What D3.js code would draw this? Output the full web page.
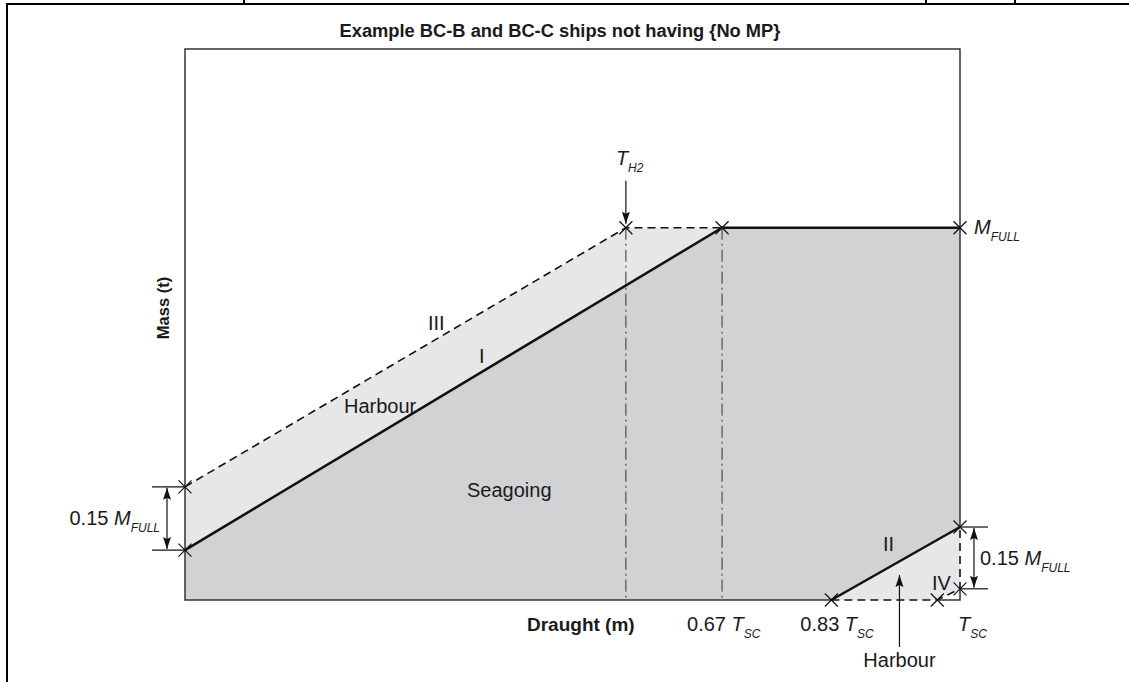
<!DOCTYPE html>
<html>
<head>
<meta charset="utf-8">
<script src="https://cdn.jsdelivr.net/npm/d3@7"></script>
<style>
	body { margin: 0; background: #fff; }
	text { font-family: "Liberation Sans", Arial, sans-serif; fill: #1a1a1a; }
	.bold { font-weight: bold; }
	.frame { stroke: #000; stroke-width: 2; fill: none; }
	.outline { stroke: #333; stroke-width: 1.5; fill: none; }
	.solid { stroke: #111; stroke-width: 2.5; fill: none; }
	.dashed { stroke: #111; stroke-width: 1.6; fill: none; stroke-dasharray: 8,5; }
	.dashdot { stroke: #333; stroke-width: 1; fill: none; stroke-dasharray: 12,4,2,4; }
	.cross { stroke: #111; stroke-width: 1.2; }
	.dim { stroke: #111; stroke-width: 1.2; fill: none; }
</style>
</head>
<body>
<svg></svg>
<script>
// draught as fraction of T_SC, mass as fraction of M_FULL
var lineI = [[0, 0.134], [0.67, 1], [1, 1]];          // seagoing limit
var lineII = [[0.83, 0], [1, 0.196]];                 // seagoing limit, deep end
var lineIII = [[0, 0.304], [0.55, 1], [0.67, 1]];     // harbour limit
var lineIV = [[0.83, 0], [0.97, 0], [1, 0.03], [1, 0.196]]; // harbour limit, deep end
var tH2 = 0.55;
var harbourArrowX = 0.92;
var draughtBreaks = [0, 0.67, 0.83, 1];

var width = 1129, height = 682;
var plot = {left: 185, top: 49, width: 775, height: 551};

var svg = d3.select("svg").attr("width", width).attr("height", height);

// schematic axis: piecewise linear
var x = d3.scaleLinear()
	.domain(draughtBreaks)
	.range([0, 0.693, 0.834, 1].map(f => plot.left + f * plot.width));
var y = d3.scaleLinear()
	.domain([0, 1.48])
	.range([plot.top + plot.height, plot.top]);

var line = d3.line().x(d => x(d[0])).y(d => y(d[1]));
var poly = pts => line(pts) + "Z";

svg.append("defs").append("marker")
	.attr("id", "arrow")
	.attr("viewBox", "0 0 12 10")
	.attr("refX", 12).attr("refY", 5)
	.attr("markerWidth", 12).attr("markerHeight", 10)
	.attr("markerUnits", "userSpaceOnUse")
	.attr("orient", "auto-start-reverse")
	.append("path").attr("d", "M0,1L12,5L0,9L2,5Z").attr("fill", "#111");

// page frame
svg.append("path").attr("class", "frame")
	.attr("d", "M7,682V4H1129M244,0V4M926,0V4M1015,0V4");

// title
svg.append("text").attr("class", "bold")
	.attr("x", 560).attr("y", 37)
	.attr("text-anchor", "middle").attr("font-size", 18.3)
	.text("Example BC-B and BC-C ships not having {No MP}");

// fills
svg.append("path").attr("fill", "#d1d2d4")
	.attr("d", poly([[0, 0]].concat(lineI, lineII.slice().reverse())));
svg.append("path").attr("fill", "#e6e7e8")
	.attr("d", poly(lineIII.concat(lineI.slice(0, 2).reverse())));
svg.append("path").attr("fill", "#e6e7e8")
	.attr("d", poly(lineII.concat(lineIV.slice().reverse())));

// outline of diagram (gaps where limit IV runs along it)
var yTop = plot.top;
svg.append("path").attr("class", "outline")
	.attr("d", "M" + x(0.83) + "," + y(0) + "H" + x(0) + "V" + yTop + "H" + x(1) + "V" + y(0.196) +
		"M" + x(0.97) + "," + y(0) + "H" + x(1) + "V" + y(0.03));

// dash-dot verticals
[tH2, 0.67].forEach(v => {
	svg.append("line").attr("class", "dashdot")
		.attr("x1", x(v)).attr("x2", x(v))
		.attr("y1", y(1)).attr("y2", y(0));
});

// limit lines
svg.append("path").attr("class", "solid").attr("d", line(lineI));
svg.append("path").attr("class", "solid").attr("d", line(lineII));
svg.append("path").attr("class", "dashed").attr("d", line(lineIII));
svg.append("path").attr("class", "dashed").attr("d", line(lineIV));

// crosses on every vertex
var pts = [];
[lineI, lineII, lineIII, lineIV].forEach(l => l.forEach(p => {
	if (!pts.some(q => q[0] === p[0] && q[1] === p[1])) pts.push(p);
}));
var s = 6.5;
svg.selectAll(".cross").data(pts).enter().append("path")
	.attr("class", "cross")
	.attr("d", d => {
		var cx = x(d[0]), cy = y(d[1]);
		return "M" + (cx - s) + "," + (cy - s) + "L" + (cx + s) + "," + (cy + s) +
			"M" + (cx - s) + "," + (cy + s) + "L" + (cx + s) + "," + (cy - s);
	});

// dimension 0.15 M_FULL, left
var lx = x(0);
[0.134, 0.304].forEach(v => {
	svg.append("line").attr("class", "dim")
		.attr("x1", lx - 33).attr("x2", lx).attr("y1", y(v)).attr("y2", y(v));
});
svg.append("line").attr("class", "dim")
	.attr("x1", lx - 18).attr("x2", lx - 18)
	.attr("y1", y(0.304) + 1).attr("y2", y(0.134) - 1)
	.attr("marker-start", "url(#arrow)").attr("marker-end", "url(#arrow)");

// dimension 0.15 M_FULL, right
var rx = x(1);
[0.03, 0.196].forEach(v => {
	svg.append("line").attr("class", "dim")
		.attr("x1", rx).attr("x2", rx + 28).attr("y1", y(v)).attr("y2", y(v));
});
svg.append("line").attr("class", "dim")
	.attr("x1", rx + 14).attr("x2", rx + 14)
	.attr("y1", y(0.196) + 1).attr("y2", y(0.03) - 1)
	.attr("marker-start", "url(#arrow)").attr("marker-end", "url(#arrow)");

// T_H2 arrow
svg.append("line").attr("class", "dim")
	.attr("x1", x(tH2)).attr("x2", x(tH2))
	.attr("y1", y(1) - 47).attr("y2", y(1) - 4)
	.attr("marker-end", "url(#arrow)");

// harbour arrow bottom right
svg.append("line").attr("class", "dim")
	.attr("x1", x(harbourArrowX)).attr("x2", x(harbourArrowX))
	.attr("y1", y(0) + 47).attr("y2", y(0.067))
	.attr("marker-end", "url(#arrow)");

// labels: parts are [text, italic, subscript]
function label(px, py, parts, anchor, size) {
	var t = svg.append("text").attr("x", px).attr("y", py)
		.attr("font-size", size || 20)
		.attr("text-anchor", anchor || "start");
	parts.forEach(p => {
		var ts = t.append("tspan").text(p[0]);
		if (p[1]) ts.attr("font-style", "italic");
		if (p[2]) ts.attr("font-size", 12).attr("dy", 7);
	});
	return t;
}

label(x(tH2) - 10, y(1) - 63, [["T", true], ["H2", true, true]]);
label(x(1) + 14, y(1) + 6, [["M", true], ["FULL", true, true]]);
label(lx - 25, y(0.219) + 7, [["0.15 "], ["M", true], ["FULL", true, true]], "end");
label(rx + 20, y(0.113) + 7, [["0.15 "], ["M", true], ["FULL", true, true]]);

label(x(0.67) - 35, 631, [["0.67 "], ["T", true], ["SC", true, true]]);
label(x(0.83) - 31, 631, [["0.83 "], ["T", true], ["SC", true, true]]);
label(x(1) - 2, 631, [["T", true], ["SC", true, true]]);
label(x(harbourArrowX), 667, [["Harbour"]], "middle");

svg.append("text").attr("class", "bold")
	.attr("x", 527).attr("y", 631).attr("font-size", 19)
	.text("Draught (m)");
svg.append("text").attr("class", "bold")
	.attr("transform", "translate(169,308) rotate(-90)")
	.attr("text-anchor", "middle").attr("font-size", 16.5)
	.text("Mass (t)");

label(428, 330, [["III"]]);
label(479, 363, [["I"]]);
label(344, 413, [["Harbour"]]);
label(467, 497, [["Seagoing"]]);
label(883, 551, [["II"]]);
label(932, 590, [["IV"]]);
</script>
</body>
</html>
